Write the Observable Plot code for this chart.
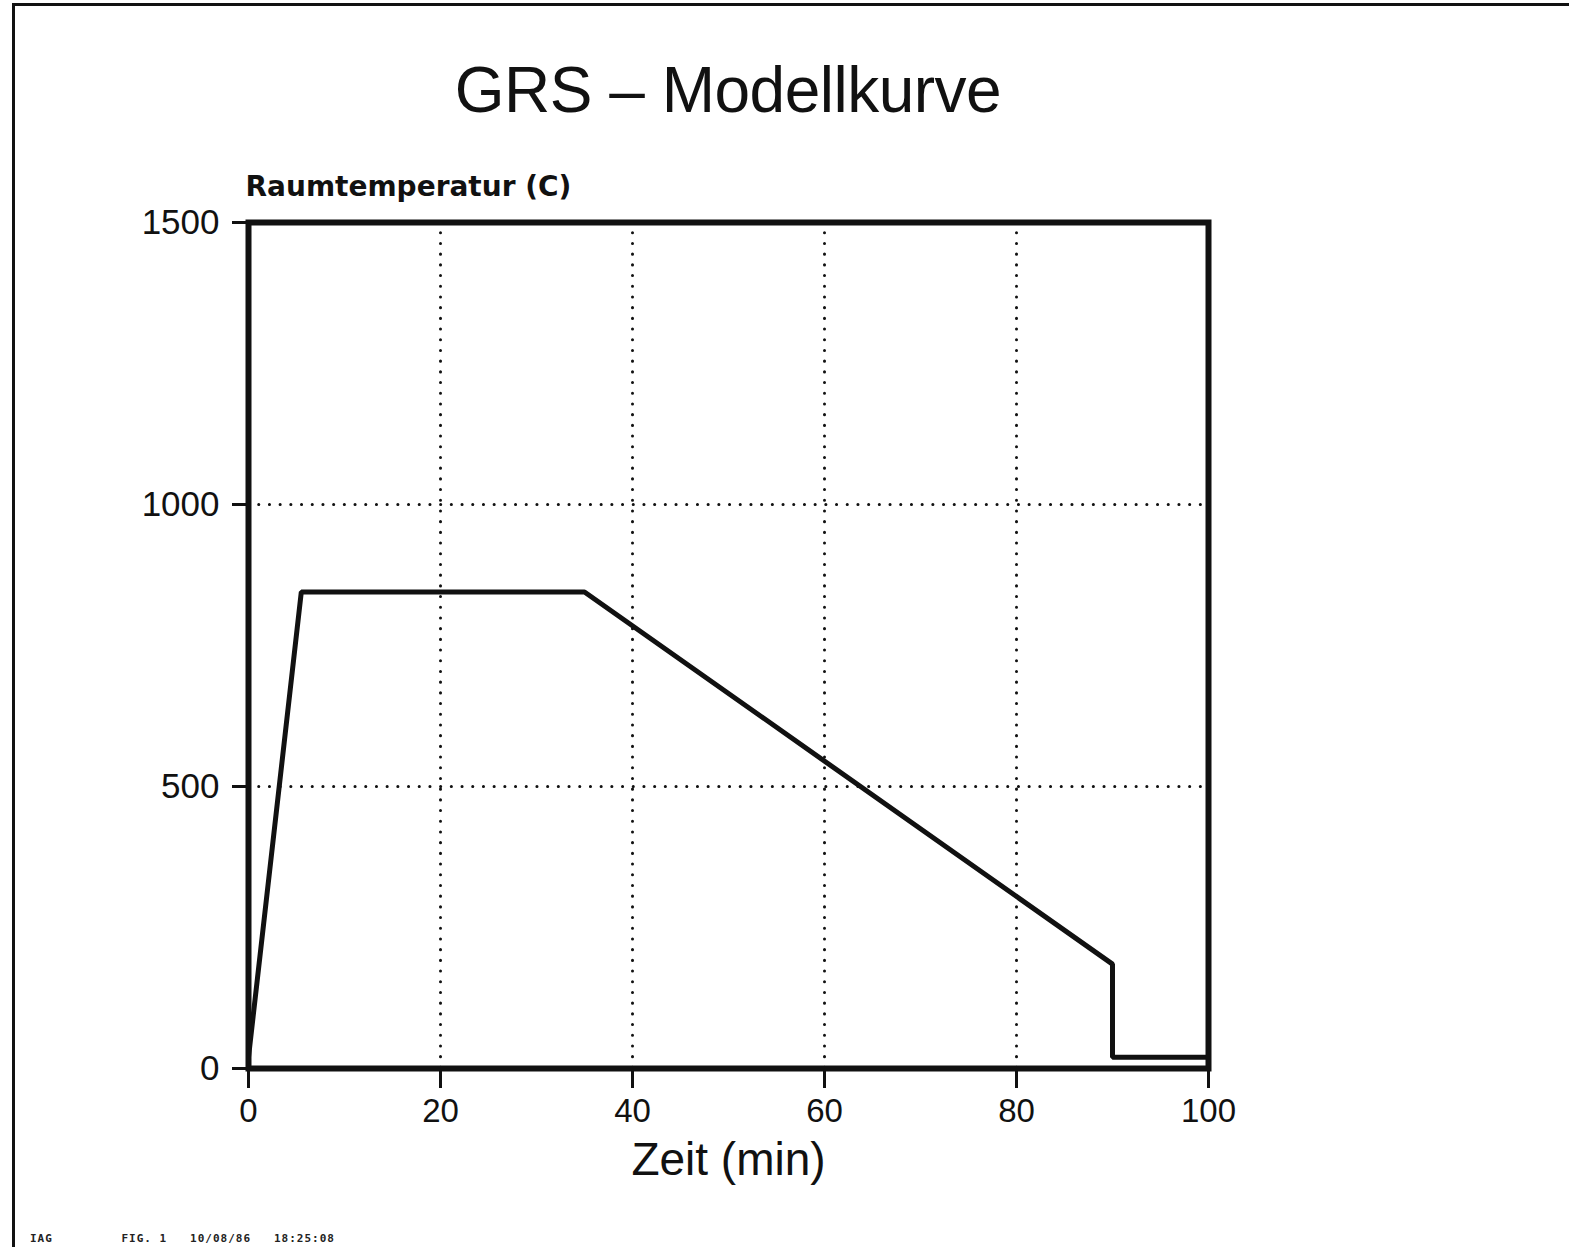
<!DOCTYPE html>
<html>
<head>
<meta charset="utf-8">
<script src="https://cdn.jsdelivr.net/npm/d3@7"></script>
<script src="https://cdn.jsdelivr.net/npm/@observablehq/plot@0.6"></script>
<style>
  html, body { margin: 0; padding: 0; background: #fff; }
  #page { position: relative; width: 1569px; height: 1247px; overflow: hidden; background: #fff; }
  #title { position: absolute; left: 0; top: 0; width: 1456px; height: 150px; text-align: center;
           font-family: "Liberation Sans", Arial, sans-serif; font-size: 64px; line-height: 180px;
           letter-spacing: -0.5px; color: #111; }
  #chart { position: absolute; left: 0; top: 150px; }
  .edge { position: absolute; background: #111; z-index: 5; }
  #footer { position: absolute; left: 30px; top: 1232px; font-family: "DejaVu Sans Mono", monospace;
            font-weight: bold; font-size: 11px; color: #222; white-space: pre; letter-spacing: 1px; }
</style>
</head>
<body>
<div id="page">
  <div class="edge" style="left:13px; top:3px; width:1556px; height:3px;"></div>
  <div class="edge" style="left:12px; top:3px; width:3px; height:1244px;"></div>
  <div id="title">GRS – Modellkurve</div>
  <div id="chart"></div>
  <div id="footer">IAG         FIG. 1   10/08/86   18:25:08</div>
</div>
<script>
// Data
const timeMin = [0, 5.5, 35, 90, 90, 100];
const tempC   = [20, 845, 845, 185, 20, 20];
const xTicks = [0, 20, 40, 60, 80, 100];
const yTicks = [0, 500, 1000, 1500];
const xGrid = [20, 40, 60, 80];
const yGrid = [500, 1000];
const yLabel = "Raumtemperatur (C)";
const xLabel = "Zeit (min)";

const curve = timeMin.map((t, i) => ({t, v: tempC[i]}));

const plot = Plot.plot({
  width: 1569,
  height: 1097,
  marginLeft: 248,
  marginRight: 361,
  marginTop: 72,
  marginBottom: 179,
  style: { fontFamily: "Liberation Sans, Arial, sans-serif", fontSize: "33px", color: "#111", background: "transparent", overflow: "visible" },
  x: { domain: [0, 100] },
  y: { domain: [0, 1500] },
  marks: [
    Plot.ruleX(xGrid, { stroke: "#111", strokeWidth: 3, strokeDasharray: "0.1,10.6", strokeLinecap: "round" }),
    Plot.ruleY(yGrid, { stroke: "#111", strokeWidth: 3, strokeDasharray: "0.1,10.6", strokeLinecap: "round" }),
    Plot.line(curve, { x: "t", y: "v", stroke: "#111", strokeWidth: 5, strokeLinejoin: "miter" }),
    Plot.frame({ stroke: "#111", strokeWidth: 6 }),
    Plot.axisX({ ticks: xTicks, tickFormat: d3.format("d"), tickSize: 20, tickPadding: 10, strokeWidth: 3, label: null, fontSize: 33 }),
    Plot.axisY({ ticks: yTicks, tickFormat: d3.format("d"), tickSize: 16, tickPadding: 13, strokeWidth: 3, label: null, fontSize: 35 }),
    Plot.text([yLabel], { frameAnchor: "top-left", textAnchor: "start", dx: -3, dy: -46,
      fontSize: 28, fontWeight: "bold", fontFamily: "DejaVu Sans, sans-serif", fill: "#111", text: d => d, style: "letter-spacing:0.4px" }),
    Plot.text([xLabel], { frameAnchor: "bottom", dy: 106, fontSize: 46, fill: "#111", text: d => d })
  ]
});
document.getElementById("chart").appendChild(plot);
</script>
</body>
</html>
